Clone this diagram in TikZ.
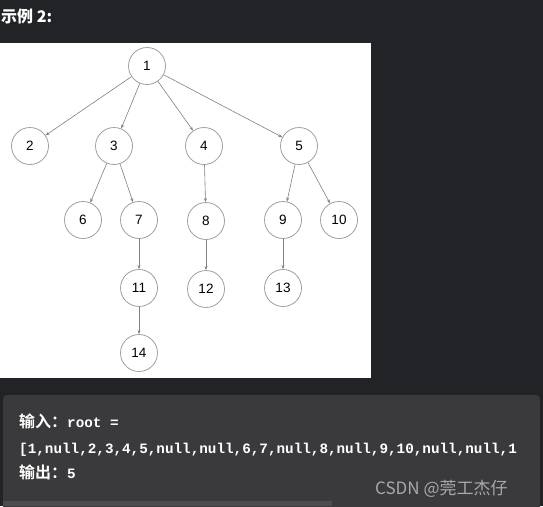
\documentclass[tikz,border=0pt]{standalone}
\usepackage{fontspec}
\setmainfont{Liberation Sans}
\newfontfamily\cjk{Noto Sans CJK SC}
\newfontfamily\cjkb{Noto Sans CJK SC}[BoldFont={* Bold}]
\newfontfamily\codefont{Liberation Mono}
\usetikzlibrary{arrows.meta}
\definecolor{pagebg}{HTML}{222326}
\definecolor{codebg}{HTML}{3A3A3D}
\definecolor{scrollc}{HTML}{4C4C4F}
\definecolor{edgec}{HTML}{808080}
\definecolor{ringc}{HTML}{A0A0A0}
\definecolor{markc}{HTML}{A8A8A8}
\tikzset{
  tn/.style={circle, draw=ringc, line width=0.8pt, minimum size=37pt, inner sep=0pt,
    font=\fontsize{13.5}{13.5}\selectfont, text=black},
  ed/.style={draw=edgec, line width=0.6pt, -{Stealth[length=4pt,width=3pt]}},
  codetxt/.style={anchor=base west, inner sep=0pt, text=white, font=\fontsize{14.3}{14.3}\selectfont},
}
\begin{document}
\begin{tikzpicture}[x=1pt,y=-1pt]
\useasboundingbox (0,0) rectangle (543,506);
\fill[pagebg] (0,0) rectangle (543,506);
\node[anchor=base west, inner sep=0pt, text=white, font=\fontsize{16}{16}\selectfont\cjk\bfseries] (title) at (1,22) {示例 2:};
% tree panel
\fill[white] (0,43) rectangle (371,378);
\node[tn] (n1) at (147,66) {1};
\node[tn] (n2) at (30,146) {2};
\node[tn] (n3) at (114,146) {3};
\node[tn] (n4) at (204,146) {4};
\node[tn] (n5) at (299,146) {5};
\node[tn] (n6) at (83,220) {6};
\node[tn] (n7) at (139,220) {7};
\node[tn] (n8) at (206,221) {8};
\node[tn] (n9) at (283,220) {9};
\node[tn] (n10) at (339,220) {10};
\node[tn] (n11) at (139,288) {11};
\node[tn] (n12) at (206,289) {12};
\node[tn] (n13) at (283,288) {13};
\node[tn] (n14) at (139,353) {14};
\draw[ed] (n1) -- (n2);
\draw[ed] (n1) -- (n3);
\draw[ed] (n1) -- (n4);
\draw[ed] (n1) -- (n5);
\draw[ed] (n3) -- (n6);
\draw[ed] (n3) -- (n7);
\draw[ed] (n4) -- (n8);
\draw[ed] (n5) -- (n9);
\draw[ed] (n5) -- (n10);
\draw[ed] (n7) -- (n11);
\draw[ed] (n8) -- (n12);
\draw[ed] (n9) -- (n13);
\draw[ed] (n11) -- (n14);
% code block
\fill[codebg, rounded corners=4pt] (3,395) rectangle (540,512);
\fill[scrollc] (3,501) rectangle (332,506);
\node[codetxt] (l1) at (19,427) {{\fontsize{16}{16}\selectfont\cjkb\bfseries 输入：}{\codefont\bfseries root =}};
\node[codetxt] (l2) at (19,453) {\codefont\bfseries [1,null,2,3,4,5,null,null,6,7,null,8,null,9,10,null,null,1};
\node[codetxt] (l3) at (19,478) {{\fontsize{16}{16}\selectfont\cjkb\bfseries 输出：}{\codefont\bfseries 5}};
\node[anchor=base west, inner sep=0pt, text=markc, font=\fontsize{17}{17}\selectfont\cjk] (mark) at (375,494) {CSDN @莞工杰仔};
\end{tikzpicture}
\end{document}
